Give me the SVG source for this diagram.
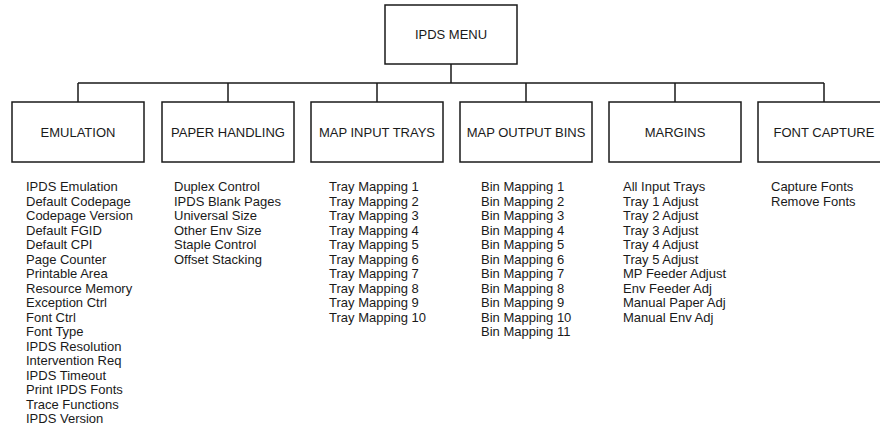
<svg xmlns="http://www.w3.org/2000/svg" width="880" height="431" viewBox="0 0 880 431">
<style>
.box{fill:#fff;stroke:#1a1a1a;stroke-width:1.5}
.lbl{font-family:"Liberation Sans",Arial,sans-serif;font-size:13px;fill:#1a1a1a;text-anchor:middle}
.lst{font-family:"Liberation Sans",Arial,sans-serif;font-size:13px;fill:#1a1a1a}
.conn{fill:none;stroke:#1a1a1a;stroke-width:1.5}
</style>
<rect width="880" height="431" fill="#fff"/>
<g id="connectors">
<path class="conn" d="M451,64 V83 M78,83 H824 M78,83 V102 M228,83 V102 M377,83 V102 M526,83 V102 M675,83 V102 M824,83 V102"/>
</g>
<g id="ipds-menu">
<rect class="box" x="385" y="5" width="132" height="59"/>
<text class="lbl" x="451" y="39">IPDS MENU</text>
</g>
<g id="emulation">
<rect class="box" x="12" y="102" width="132" height="60"/>
<text class="lbl" x="78" y="137">EMULATION</text>
<text class="lst" x="26" y="191">
<tspan x="26">IPDS Emulation</tspan>
<tspan x="26" dy="14.5">Default Codepage</tspan>
<tspan x="26" dy="14.5">Codepage Version</tspan>
<tspan x="26" dy="14.5">Default FGID</tspan>
<tspan x="26" dy="14.5">Default CPI</tspan>
<tspan x="26" dy="14.5">Page Counter</tspan>
<tspan x="26" dy="14.5">Printable Area</tspan>
<tspan x="26" dy="14.5">Resource Memory</tspan>
<tspan x="26" dy="14.5">Exception Ctrl</tspan>
<tspan x="26" dy="14.5">Font Ctrl</tspan>
<tspan x="26" dy="14.5">Font Type</tspan>
<tspan x="26" dy="14.5">IPDS Resolution</tspan>
<tspan x="26" dy="14.5">Intervention Req</tspan>
<tspan x="26" dy="14.5">IPDS Timeout</tspan>
<tspan x="26" dy="14.5">Print IPDS Fonts</tspan>
<tspan x="26" dy="14.5">Trace Functions</tspan>
<tspan x="26" dy="14.5">IPDS Version</tspan>
</text>
</g>
<g id="paper-handling">
<rect class="box" x="162" y="102" width="132" height="60"/>
<text class="lbl" x="228" y="137">PAPER HANDLING</text>
<text class="lst" x="174" y="191">
<tspan x="174">Duplex Control</tspan>
<tspan x="174" dy="14.5">IPDS Blank Pages</tspan>
<tspan x="174" dy="14.5">Universal Size</tspan>
<tspan x="174" dy="14.5">Other Env Size</tspan>
<tspan x="174" dy="14.5">Staple Control</tspan>
<tspan x="174" dy="14.5">Offset Stacking</tspan>
</text>
</g>
<g id="map-input-trays">
<rect class="box" x="311" y="102" width="132" height="60"/>
<text class="lbl" x="377" y="137">MAP INPUT TRAYS</text>
<text class="lst" x="329" y="191">
<tspan x="329">Tray Mapping 1</tspan>
<tspan x="329" dy="14.5">Tray Mapping 2</tspan>
<tspan x="329" dy="14.5">Tray Mapping 3</tspan>
<tspan x="329" dy="14.5">Tray Mapping 4</tspan>
<tspan x="329" dy="14.5">Tray Mapping 5</tspan>
<tspan x="329" dy="14.5">Tray Mapping 6</tspan>
<tspan x="329" dy="14.5">Tray Mapping 7</tspan>
<tspan x="329" dy="14.5">Tray Mapping 8</tspan>
<tspan x="329" dy="14.5">Tray Mapping 9</tspan>
<tspan x="329" dy="14.5">Tray Mapping 10</tspan>
</text>
</g>
<g id="map-output-bins">
<rect class="box" x="460" y="102" width="132" height="60"/>
<text class="lbl" x="526" y="137">MAP OUTPUT BINS</text>
<text class="lst" x="481" y="191">
<tspan x="481">Bin Mapping 1</tspan>
<tspan x="481" dy="14.5">Bin Mapping 2</tspan>
<tspan x="481" dy="14.5">Bin Mapping 3</tspan>
<tspan x="481" dy="14.5">Bin Mapping 4</tspan>
<tspan x="481" dy="14.5">Bin Mapping 5</tspan>
<tspan x="481" dy="14.5">Bin Mapping 6</tspan>
<tspan x="481" dy="14.5">Bin Mapping 7</tspan>
<tspan x="481" dy="14.5">Bin Mapping 8</tspan>
<tspan x="481" dy="14.5">Bin Mapping 9</tspan>
<tspan x="481" dy="14.5">Bin Mapping 10</tspan>
<tspan x="481" dy="14.5">Bin Mapping 11</tspan>
</text>
</g>
<g id="margins">
<rect class="box" x="609" y="102" width="132" height="60"/>
<text class="lbl" x="675" y="137">MARGINS</text>
<text class="lst" x="623" y="191">
<tspan x="623">All Input Trays</tspan>
<tspan x="623" dy="14.5">Tray 1 Adjust</tspan>
<tspan x="623" dy="14.5">Tray 2 Adjust</tspan>
<tspan x="623" dy="14.5">Tray 3 Adjust</tspan>
<tspan x="623" dy="14.5">Tray 4 Adjust</tspan>
<tspan x="623" dy="14.5">Tray 5 Adjust</tspan>
<tspan x="623" dy="14.5">MP Feeder Adjust</tspan>
<tspan x="623" dy="14.5">Env Feeder Adj</tspan>
<tspan x="623" dy="14.5">Manual Paper Adj</tspan>
<tspan x="623" dy="14.5">Manual Env Adj</tspan>
</text>
</g>
<g id="font-capture">
<rect class="box" x="758" y="102" width="132" height="60"/>
<text class="lbl" x="824" y="137">FONT CAPTURE</text>
<text class="lst" x="771" y="191">
<tspan x="771">Capture Fonts</tspan>
<tspan x="771" dy="14.5">Remove Fonts</tspan>
</text>
</g>
</svg>
